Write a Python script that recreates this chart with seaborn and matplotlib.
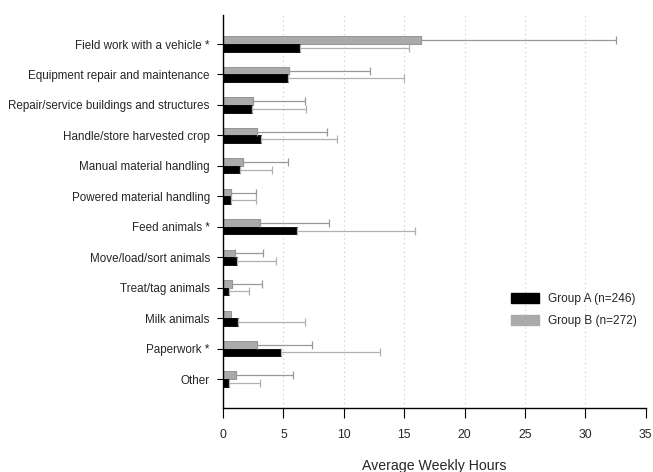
import numpy as np
import pandas as pd
import matplotlib
matplotlib.use("Agg")
import matplotlib.pyplot as plt
import seaborn as sns
from matplotlib.patches import Patch

# Activities and mean weekly hours with upper error limits
activities = [
    "Field work with a vehicle *",
    "Equipment repair and maintenance",
    "Repair/service buildings and structures",
    "Handle/store harvested crop",
    "Manual material handling",
    "Powered material handling",
    "Feed animals *",
    "Move/load/sort animals",
    "Treat/tag animals",
    "Milk animals",
    "Paperwork *",
    "Other",
]
group_a_mean = [6.4, 5.36, 2.38, 3.18, 1.38, 0.64, 6.1, 1.16, 0.47, 1.27, 4.78, 0.47]
group_a_upper = [15.4, 14.96, 6.87, 9.44, 4.06, 2.76, 15.87, 4.39, 2.18, 6.79, 13.0, 3.07]
group_b_mean = [16.4, 5.47, 2.49, 2.79, 1.66, 0.69, 3.09, 1.0, 0.77, 0.69, 2.85, 1.05]
group_b_upper = [32.5, 12.2, 6.76, 8.58, 5.36, 2.76, 8.8, 3.34, 3.26, np.nan, 7.4, 5.8]

label_a = "Group A (n=246)"
label_b = "Group B (n=272)"

df = pd.concat([
    pd.DataFrame({"activity": activities, "hours": group_b_mean,
                  "upper": group_b_upper, "group": label_b}),
    pd.DataFrame({"activity": activities, "hours": group_a_mean,
                  "upper": group_a_upper, "group": label_a}),
], ignore_index=True)

sns.set_style("white")
plt.rcParams["font.family"] = ["Liberation Sans", "DejaVu Sans"]

fig = plt.figure(figsize=(6.53, 4.72), dpi=100)
ax = fig.add_axes([0.3415, 0.1356, 0.6475, 0.8324])

palette = {label_b: "#aaaaaa", label_a: "#000000"}
sns.barplot(data=df, y="activity", x="hours", hue="group",
            hue_order=[label_b, label_a], order=activities,
            palette=palette, orient="h", width=0.5, errorbar=None,
            saturation=1, legend=False, ax=ax)

# colour the bar edges per group
for cont, edge in zip(ax.containers, ["#8a8a8a", "#000000"]):
    for p in cont:
        p.set_edgecolor(edge)
        p.set_linewidth(0.6)

# one-sided error bars drawn from the end of each bar
for cont, grp, col in zip(ax.containers, [label_b, label_a], ["#999999", "#b0b0b0"]):
    sub = df[df["group"] == grp].set_index("activity").loc[activities]
    for p, mean, up in zip(cont, sub["hours"], sub["upper"]):
        if np.isnan(up):
            continue
        yc = p.get_y() + p.get_height() / 2
        ax.errorbar(mean, yc, xerr=[[0], [up - mean]], fmt="none",
                    ecolor=col, elinewidth=0.9, capsize=3.2, capthick=0.9)

ax.set_xlim(0, 35)
ax.set_ylim(11.95, -0.95)
ax.set_xticks(np.arange(0, 36, 5))
ax.xaxis.grid(True, linestyle=(0, (1, 3)), color="#c8c8c8", linewidth=0.8)
ax.yaxis.grid(False)
ax.set_axisbelow(True)

for s in ["top", "right"]:
    ax.spines[s].set_visible(False)
ax.spines["left"].set_color("black")
ax.spines["left"].set_linewidth(1.0)
ax.spines["bottom"].set_color("black")
ax.spines["bottom"].set_linewidth(1.0)

ax.tick_params(axis="y", left=True, length=4, width=0.8, pad=5.5, labelsize=8.4, color="black")
ax.tick_params(axis="x", bottom=True, length=7, width=0.8, pad=8, labelsize=8.8, color="black")

ax.set_ylabel("")
ax.set_xlabel("Average Weekly Hours", fontsize=10.2, labelpad=13)

handles = [Patch(facecolor="#000000", edgecolor="#000000", label=label_a),
           Patch(facecolor="#aaaaaa", edgecolor="#aaaaaa", label=label_b)]
ax.legend(handles=handles, loc="upper left", bbox_to_anchor=(0.67, 0.305),
          frameon=False, fontsize=8.6, handlelength=2.3, handleheight=0.95,
          handletextpad=0.8, labelspacing=0.8, borderaxespad=0)

fig.savefig("out.png", dpi=100)
